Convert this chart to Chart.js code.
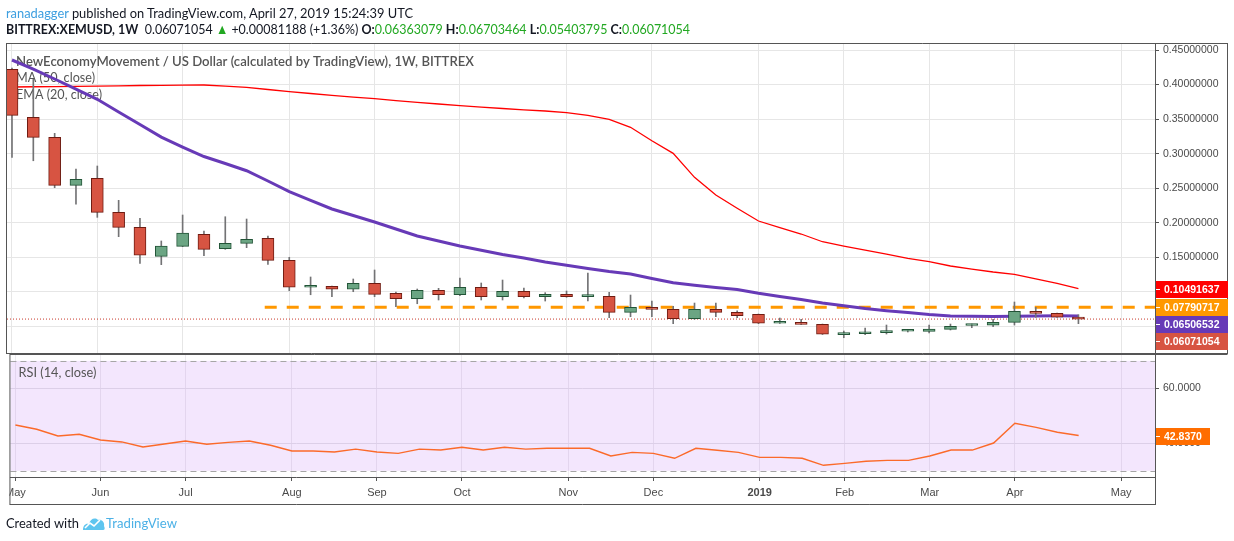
<!DOCTYPE html>
<html>
<head>
<meta charset="utf-8">
<title>XEMUSD 1W</title>
<script src="https://cdn.jsdelivr.net/npm/chart.js@4.4.0/dist/chart.umd.min.js"></script>
<style>
  html, body { margin: 0; padding: 0; background: #fff; }
  #wrap { position: relative; width: 1234px; height: 541px; overflow: hidden; font-family: Lato, "Open Sans", sans-serif; }
  canvas { position: absolute; left: 0; top: 0; width: 1234px; height: 541px; }
  .txt { position: absolute; white-space: nowrap; display: inline-block; transform-origin: 0 50%; line-height: 16px; font-size: 14px; color: #131722; }
  .blue { color: #3d9fe0; }
  .up { color: #22a822; }
  b { font-weight: 700; }
</style>
</head>
<body>
<div id="wrap">
  <canvas id="main" width="1234" height="541"></canvas>
  <canvas id="rsi" width="1234" height="541"></canvas>

  <div class="txt" style="left:6px; top:5px;" data-w="407"><span class="blue">ranadagger</span> published on TradingView.com, April 27, 2019 15:24:39 UTC</div>
  <div class="txt" style="left:6px; top:21px;" data-w="684"><b>BITTREX:XEMUSD, 1W</b>&nbsp; 0.06071054 <span class="up">▲</span> +0.00081188 (+1.36%) <b>O:</b><span class="up">0.06363079</span> <b>H:</b><span class="up">0.06703464</span> <b>L:</b><span class="up">0.05403795</span> <b>C:</b><span class="up">0.06071054</span></div>

  <div class="txt" style="left:6px; top:515px;" data-w="73">Created with</div>
  <svg style="position:absolute; left:82px; top:515px;" width="24" height="16" viewBox="0 0 24 16">
    <path d="M1 15 C1 10 4 8 7 9 C8 4 13 2 16 5 C19 4 23 7 22 11 C23 13 23 15 21 15 Z" fill="#5ec5ef"/>
    <path d="M3 13 L8 8 L12 11 L18 5" stroke="#ffffff" stroke-width="1.6" fill="none"/>
  </svg>
  <div class="txt blue" style="left:106px; top:515px; color:#4cb1e6;" data-w="71">TradingView</div>
</div>

<script>
// weekly candles, 7 May 2018 .. 22 Apr 2019
var opens = [
  0.4221, 0.3526, 0.3237, 0.2542, 0.2644, 0.2152, 0.1935, 0.1515, 0.1660, 0.1833,
  0.1625, 0.1703, 0.1776, 0.1457, 0.1067, 0.1081, 0.1038, 0.1124, 0.0980, 0.0902,
  0.1023, 0.0959, 0.1067, 0.0931, 0.1009, 0.0931, 0.0965, 0.0931, 0.0936, 0.0705,
  0.0777, 0.0748, 0.0612, 0.0748, 0.0705, 0.0676, 0.0546, 0.0550, 0.0531, 0.0381,
  0.0395, 0.0410, 0.0431, 0.0430, 0.0459, 0.0514, 0.0517, 0.0560, 0.0719, 0.0690,
  0.06363079
];
var highs = [
  0.4240, 0.4076, 0.3295, 0.2778, 0.2822, 0.2325, 0.2065, 0.1737, 0.2113, 0.1881,
  0.2088, 0.2055, 0.1809, 0.1501, 0.1216, 0.1085, 0.1187, 0.1317, 0.0999, 0.1042,
  0.1052, 0.1201, 0.1129, 0.1172, 0.1056, 0.0989, 0.1013, 0.1273, 0.0994, 0.0955,
  0.0868, 0.0792, 0.0839, 0.0839, 0.0728, 0.0680, 0.0622, 0.0604, 0.0535, 0.0434,
  0.0478, 0.0521, 0.0453, 0.0521, 0.0535, 0.0535, 0.0604, 0.0854, 0.0777, 0.0695,
  0.06703464
];
var lows = [
  0.2948, 0.2898, 0.2508, 0.2268, 0.2079, 0.1799, 0.1414, 0.1394, 0.1655, 0.1524,
  0.1616, 0.1640, 0.1399, 0.1017, 0.0959, 0.0931, 0.1003, 0.0931, 0.0786, 0.0829,
  0.0883, 0.0945, 0.0883, 0.0883, 0.0912, 0.0868, 0.0922, 0.0868, 0.0627, 0.0641,
  0.0641, 0.0540, 0.0604, 0.0641, 0.0627, 0.0540, 0.0544, 0.0528, 0.0384, 0.0337,
  0.0381, 0.0391, 0.0420, 0.0405, 0.0449, 0.0482, 0.0496, 0.0521, 0.0632, 0.0630,
  0.05403795
];
var closes = [
  0.3555, 0.3237, 0.2542, 0.2629, 0.2152, 0.1935, 0.1530, 0.1664, 0.1852, 0.1616,
  0.1703, 0.1761, 0.1457, 0.1067, 0.1085, 0.1038, 0.1124, 0.0965, 0.0902, 0.1023,
  0.0959, 0.1067, 0.0931, 0.1009, 0.0931, 0.0965, 0.0931, 0.0936, 0.0705, 0.0777,
  0.0748, 0.0612, 0.0748, 0.0705, 0.0656, 0.0546, 0.0569, 0.0531, 0.0387, 0.0405,
  0.0420, 0.0434, 0.0434, 0.0463, 0.0502, 0.0517, 0.0560, 0.0719, 0.0690, 0.0636,
  0.06071054
];
var sma50 = [
  0.3965, 0.3969, 0.3972, 0.3975, 0.3979, 0.3982, 0.3987, 0.3989, 0.3992, 0.3994,
  0.3979, 0.3960, 0.3929, 0.3897, 0.3871, 0.3845, 0.3820, 0.3796, 0.3769, 0.3743,
  0.3719, 0.3697, 0.3675, 0.3654, 0.3635, 0.3618, 0.3593, 0.3555, 0.3497, 0.3382,
  0.3188, 0.3005, 0.2658, 0.2402, 0.2210, 0.2026, 0.1929, 0.1838, 0.1726, 0.1664,
  0.1606, 0.1548, 0.1486, 0.1437, 0.1375, 0.1331, 0.1288, 0.1255, 0.1187, 0.1122,
  0.10491637
];
var ema20 = [
  0.4356, 0.4225, 0.4081, 0.3936, 0.3787, 0.3603, 0.3422, 0.3241, 0.3096, 0.2959,
  0.2858, 0.2754, 0.2605, 0.2450, 0.2323, 0.2200, 0.2105, 0.2011, 0.1910, 0.1809,
  0.1737, 0.1664, 0.1602, 0.1541, 0.1491, 0.1433, 0.1385, 0.1339, 0.1295, 0.1259,
  0.1194, 0.1133, 0.1096, 0.1064, 0.1035, 0.0980, 0.0933, 0.0890, 0.0839, 0.0800,
  0.0760, 0.0728, 0.0702, 0.0673, 0.0651, 0.0647, 0.0644, 0.0647, 0.0651, 0.0654,
  0.06506532
];
var rsi14 = [
  46.65, 45.10, 42.65, 43.30, 41.20, 40.50, 38.65, 39.75, 40.85, 39.65,
  40.35, 40.85, 39.30, 37.20, 37.20, 36.85, 37.90, 36.85, 36.35, 37.90,
  37.55, 38.55, 37.55, 38.55, 37.90, 38.20, 38.20, 38.20, 35.40, 36.70,
  36.35, 34.55, 38.20, 37.45, 36.70, 34.90, 34.90, 34.55, 32.00, 32.70,
  33.45, 33.80, 33.80, 35.40, 37.55, 37.55, 40.10, 47.30, 45.80, 44.00,
  42.837
];

// bar numbers where each month starts, and their labels
var monthTicks = [1, 5, 9, 14, 18, 22, 27, 31, 36, 40, 44, 48, 53];
var monthLabels = ['May', 'Jun', 'Jul', 'Aug', 'Sep', 'Oct', 'Nov', 'Dec', '2019', 'Feb', 'Mar', 'Apr', 'May'];
var priceTicks = [0.05, 0.10, 0.15, 0.20, 0.25, 0.30, 0.35, 0.40, 0.45];
var rsiTicks = [40, 60];
var rsiBands = [30, 70];

// horizontal level drawn by the author
var levelPrice = 0.07790717;
var levelFrom = 12.85;

var xMin = 0.766, xMax = 54.59;
var last = closes.length - 1;
var bars = closes.map(function (c, i) { return i + 1; });
var isUp = closes.map(function (c, i) { return c >= opens[i]; });

var AXIS_FONT = { family: '"Liberation Sans", Arial, sans-serif', size: 10.5 };
var FRAME = '#555555';

function fitText(ctx, text, x, y, width, font, color) {
  ctx.save();
  ctx.font = font;
  ctx.fillStyle = color;
  ctx.textBaseline = 'middle';
  var w = ctx.measureText(text).width;
  ctx.translate(x, y);
  ctx.scale(width / w, 1);
  ctx.fillText(text, 0, 0);
  ctx.restore();
}

function hline(ctx, x1, x2, y) {
  ctx.beginPath(); ctx.moveTo(x1, y); ctx.lineTo(x2, y); ctx.stroke();
}
function vline(ctx, x, y1, y2) {
  ctx.beginPath(); ctx.moveTo(x, y1); ctx.lineTo(x, y2); ctx.stroke();
}

function drawTag(ctx, left, cy, width, text, bg) {
  ctx.save();
  ctx.fillStyle = bg;
  ctx.fillRect(left, Math.round(cy) - 8, width, 17);
  ctx.strokeStyle = '#ffffff';
  ctx.lineWidth = 1;
  hline(ctx, left, left + 4, Math.round(cy) + 0.5);
  ctx.fillStyle = '#ffffff';
  ctx.font = 'bold 10.5px "Liberation Sans", Arial, sans-serif';
  ctx.textBaseline = 'middle';
  ctx.fillText(text, left + 8, Math.round(cy) + 1);
  ctx.restore();
}

function xScale(showLabels) {
  return {
    type: 'linear',
    min: xMin,
    max: xMax,
    offset: false,
    afterBuildTicks: function (axis) {
      axis.ticks = monthTicks.map(function (v) { return { value: v }; });
    },
    afterFit: function (scale) { scale.height = showLabels ? 27 : 0; },
    grid: {
      color: showLabels ? 'rgba(120, 100, 140, 0.13)' : '#e6e6e6',
      drawTicks: showLabels,
      tickLength: 4,
      tickColor: FRAME,
      offset: false
    },
    border: { display: false },
    ticks: {
      display: showLabels,
      autoSkip: false,
      maxRotation: 0,
      padding: 5,
      color: '#4a4a4a',
      font: function (c) {
        var bold = c.tick && c.tick.label === '2019';
        return { family: AXIS_FONT.family, size: 11, weight: bold ? 'bold' : 'normal' };
      },
      callback: function (value) { return monthLabels[monthTicks.indexOf(value)]; }
    }
  };
}

var mainPlugin = {
  id: 'mainPane',
  beforeDatasetsDraw: function (chart) {
    var ctx = chart.ctx, a = chart.chartArea;
    fitText(ctx, 'NewEconomyMovement / US Dollar (calculated by TradingView), 1W, BITTREX',
      a.left + 9, a.top + 18, 458, '600 14px Lato, sans-serif', '#555555');
    fitText(ctx, 'MA (50, close)', a.left + 9, a.top + 34.5, 79, '14px Lato, sans-serif', '#555555');
    fitText(ctx, 'EMA (20, close)', a.left + 9, a.top + 51, 86, '14px Lato, sans-serif', '#555555');
  },
  afterDraw: function (chart) {
    var ctx = chart.ctx, a = chart.chartArea, y = chart.scales.y;
    ctx.save();
    ctx.strokeStyle = FRAME;
    ctx.lineWidth = 1;
    hline(ctx, a.left - 0.5, 1227.5, a.top + 0.5);
    hline(ctx, a.left - 0.5, 1227.5, a.bottom + 0.5);
    vline(ctx, a.left - 0.5, a.top, a.bottom + 1);
    vline(ctx, a.right + 0.5, a.top, a.bottom + 1);
    vline(ctx, 1227.5, a.top, a.bottom + 1);
    ctx.restore();

    var tags = [
      { v: sma50[last], bg: '#ff0000' },
      { v: levelPrice, bg: '#ff9800' },
      { v: ema20[last], bg: '#673ab7' },
      { v: closes[last], bg: '#d75442' }
    ].sort(function (p, q) { return q.v - p.v; });
    var prev = -Infinity;
    tags.forEach(function (t) {
      var cy = y.getPixelForValue(t.v);
      if (cy < prev + 17) cy = prev + 17;
      prev = cy;
      drawTag(ctx, a.right + 1, cy, 72, t.v.toFixed(8), t.bg);
    });
  }
};

var rsiPlugin = {
  id: 'rsiPane',
  beforeDraw: function (chart) {
    var ctx = chart.ctx, a = chart.chartArea, y = chart.scales.y;
    var top = y.getPixelForValue(rsiBands[1]), bot = y.getPixelForValue(rsiBands[0]);
    ctx.save();
    ctx.fillStyle = '#f3e6fd';
    ctx.fillRect(a.left, top, a.right - a.left, bot - top);
    ctx.restore();
  },
  beforeDatasetsDraw: function (chart) {
    var ctx = chart.ctx, a = chart.chartArea, y = chart.scales.y;
    ctx.save();
    ctx.strokeStyle = '#a6a6a6';
    ctx.lineWidth = 1;
    ctx.setLineDash([6, 4]);
    rsiBands.forEach(function (v) {
      hline(ctx, a.left, a.right, Math.round(y.getPixelForValue(v)) + 0.5);
    });
    ctx.restore();
    fitText(ctx, 'RSI (14, close)', a.left + 8, a.top + 18, 78, '14px Lato, sans-serif', '#555555');
  },
  afterDraw: function (chart) {
    var ctx = chart.ctx, a = chart.chartArea, y = chart.scales.y;
    // the time axis label at the far left is cut by the frame, as in the original
    ctx.save();
    ctx.fillStyle = '#ffffff';
    ctx.fillRect(0, a.bottom + 1, a.left - 1, 27);
    ctx.strokeStyle = FRAME;
    ctx.lineWidth = 1;
    hline(ctx, a.left - 0.5, 1227.5, a.top + 0.5);
    hline(ctx, a.left - 0.5, a.right + 0.5, a.bottom + 0.5);
    hline(ctx, a.left - 0.5, a.right + 0.5, a.bottom + 27.5);
    vline(ctx, a.left - 0.5, a.top, a.bottom + 28);
    vline(ctx, a.right + 0.5, a.top, a.bottom + 28);
    ctx.restore();
    drawTag(ctx, a.right + 1, y.getPixelForValue(rsi14[last]), 54, rsi14[last].toFixed(4), '#ff6d00');
  }
};

new Chart(document.getElementById('main'), {
  type: 'bar',
  data: {
    datasets: [
      {
        type: 'bar', label: 'body',
        data: bars.map(function (x, i) { return { x: x, y: [opens[i], closes[i]] }; }),
        backgroundColor: isUp.map(function (u) { return u ? '#6ba583' : '#d75442'; }),
        borderColor: isUp.map(function (u) { return u ? '#225437' : '#6f1c12'; }),
        borderWidth: 1, borderSkipped: false, barThickness: 12, minBarLength: 2,
        grouped: false, order: 1
      },
      {
        type: 'bar', label: 'wick',
        data: bars.map(function (x, i) { return { x: x, y: [lows[i], highs[i]] }; }),
        backgroundColor: '#737375', barThickness: 1, grouped: false, order: 2
      },
      {
        type: 'line', label: 'EMA (20, close)',
        data: bars.map(function (x, i) { return { x: x, y: ema20[i] }; }),
        borderColor: '#673ab7', borderWidth: 3, pointRadius: 0, tension: 0, order: 3
      },
      {
        type: 'line', label: 'MA (50, close)',
        data: bars.map(function (x, i) { return { x: x, y: sma50[i] }; }),
        borderColor: '#ff0000', borderWidth: 1.3, pointRadius: 0, tension: 0, order: 4
      },
      {
        type: 'line', label: 'level',
        data: [{ x: levelFrom, y: levelPrice }, { x: xMax, y: levelPrice }],
        borderColor: '#ff9800', borderWidth: 3, borderDash: [12, 10], pointRadius: 0, order: 5
      },
      {
        type: 'line', label: 'last close',
        data: [{ x: xMin, y: closes[last] }, { x: xMax, y: closes[last] }],
        borderColor: '#c8372b', borderWidth: 1, borderDash: [1, 2], pointRadius: 0, order: 6
      }
    ]
  },
  options: {
    responsive: false,
    animation: false,
    events: [],
    layout: { padding: { left: 7, top: 43, right: 0, bottom: 188 } },
    plugins: { legend: { display: false }, tooltip: { enabled: false } },
    scales: {
      x: xScale(false),
      y: {
        position: 'right',
        min: 0.0116,
        max: 0.4602,
        afterBuildTicks: function (axis) {
          axis.ticks = priceTicks.map(function (v) { return { value: v }; });
        },
        afterFit: function (scale) { scale.width = 79; },
        grid: { color: '#e6e6e6', tickLength: 4, tickColor: FRAME },
        border: { display: false },
        ticks: {
          padding: 4, color: '#4a4a4a', font: AXIS_FONT,
          callback: function (v) { return v.toFixed(8); }
        }
      }
    }
  },
  plugins: [mainPlugin]
});

new Chart(document.getElementById('rsi'), {
  type: 'line',
  data: {
    datasets: [{
      label: 'RSI (14, close)',
      data: bars.map(function (x, i) { return { x: x, y: rsi14[i] }; }),
      borderColor: '#fb6a2a', borderWidth: 1.4, pointRadius: 0, tension: 0
    }]
  },
  options: {
    responsive: false,
    animation: false,
    events: [],
    layout: { padding: { left: 7, top: 354, right: 0, bottom: 37 } },
    plugins: { legend: { display: false }, tooltip: { enabled: false } },
    scales: {
      x: xScale(true),
      y: {
        position: 'right',
        min: 27.75,
        max: 72.47,
        afterBuildTicks: function (axis) {
          axis.ticks = rsiTicks.map(function (v) { return { value: v }; });
        },
        afterFit: function (scale) { scale.width = 79; },
        grid: { color: '#dccfe8', tickLength: 4, tickColor: FRAME },
        border: { display: false },
        ticks: {
          padding: 4, color: '#4a4a4a', font: AXIS_FONT,
          callback: function (v) { return v.toFixed(4); }
        }
      }
    }
  },
  plugins: [rsiPlugin]
});

// squeeze the html text lines to the widths of the original
document.querySelectorAll('[data-w]').forEach(function (el) {
  var w = el.getBoundingClientRect().width;
  el.style.transform = 'scaleX(' + (el.getAttribute('data-w') / w) + ')';
});
</script>
</body>
</html>
